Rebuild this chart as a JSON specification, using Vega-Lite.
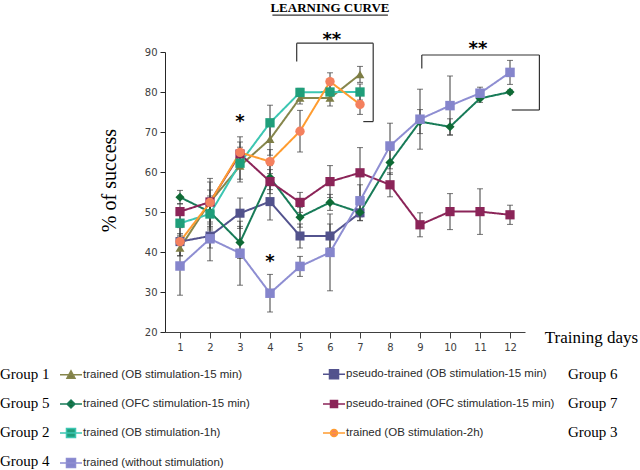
{
  "$schema": "https://vega.github.io/schema/vega-lite/v6.json",
  "width": 360,
  "height": 280,
  "autosize": "none",
  "padding": {"left": 165, "top": 52, "right": 115, "bottom": 138},
  "background": "white",
  "config": {"view": {"stroke": null}, "legend": {"padding": 0}},
  "datasets": {
    "curves": [
      {"day": 1, "value": 41.0, "err": 2.0, "series": "trained (OB stimulation-15 min)", "group": "Group 1"},
      {"day": 2, "value": 52.5, "err": 5.0, "series": "trained (OB stimulation-15 min)", "group": "Group 1"},
      {"day": 3, "value": 61.5, "err": 4.0, "series": "trained (OB stimulation-15 min)", "group": "Group 1"},
      {"day": 4, "value": 68.2, "err": 4.0, "series": "trained (OB stimulation-15 min)", "group": "Group 1"},
      {"day": 5, "value": 78.5, "err": 1.5, "series": "trained (OB stimulation-15 min)", "group": "Group 1"},
      {"day": 6, "value": 78.5, "err": 2.0, "series": "trained (OB stimulation-15 min)", "group": "Group 1"},
      {"day": 7, "value": 84.4, "err": 2.0, "series": "trained (OB stimulation-15 min)", "group": "Group 1"},

      {"day": 1, "value": 42.6, "err": 3.5, "series": "pseudo-trained (OB stimulation-15 min)", "group": "Group 6"},
      {"day": 2, "value": 44.0, "err": 3.0, "series": "pseudo-trained (OB stimulation-15 min)", "group": "Group 6"},
      {"day": 3, "value": 49.7, "err": 3.8, "series": "pseudo-trained (OB stimulation-15 min)", "group": "Group 6"},
      {"day": 4, "value": 52.6, "err": 4.6, "series": "pseudo-trained (OB stimulation-15 min)", "group": "Group 6"},
      {"day": 5, "value": 44.0, "err": 3.0, "series": "pseudo-trained (OB stimulation-15 min)", "group": "Group 6"},
      {"day": 6, "value": 44.0, "err": 3.0, "series": "pseudo-trained (OB stimulation-15 min)", "group": "Group 6"},
      {"day": 7, "value": 49.8, "err": 2.0, "series": "pseudo-trained (OB stimulation-15 min)", "group": "Group 6"},

      {"day": 1, "value": 53.7, "err": 1.7, "series": "trained (OFC stimulation-15 min)", "group": "Group 5"},
      {"day": 2, "value": 50.0, "err": 4.0, "series": "trained (OFC stimulation-15 min)", "group": "Group 5"},
      {"day": 3, "value": 42.4, "err": 4.0, "series": "trained (OFC stimulation-15 min)", "group": "Group 5"},
      {"day": 4, "value": 58.6, "err": 3.0, "series": "trained (OFC stimulation-15 min)", "group": "Group 5"},
      {"day": 5, "value": 48.7, "err": 2.5, "series": "trained (OFC stimulation-15 min)", "group": "Group 5"},
      {"day": 6, "value": 52.4, "err": 2.0, "series": "trained (OFC stimulation-15 min)", "group": "Group 5"},
      {"day": 7, "value": 49.9, "err": 2.0, "series": "trained (OFC stimulation-15 min)", "group": "Group 5"},
      {"day": 8, "value": 62.4, "err": 3.0, "series": "trained (OFC stimulation-15 min)", "group": "Group 5"},
      {"day": 9, "value": 72.6, "err": 3.0, "series": "trained (OFC stimulation-15 min)", "group": "Group 5"},
      {"day": 10, "value": 71.3, "err": 2.0, "series": "trained (OFC stimulation-15 min)", "group": "Group 5"},
      {"day": 11, "value": 78.4, "err": 1.0, "series": "trained (OFC stimulation-15 min)", "group": "Group 5"},
      {"day": 12, "value": 80.0, "err": 0.5, "series": "trained (OFC stimulation-15 min)", "group": "Group 5"},

      {"day": 1, "value": 50.1, "err": 2.0, "series": "pseudo-trained (OFC stimulation-15 min)", "group": "Group 7"},
      {"day": 2, "value": 52.5, "err": 3.0, "series": "pseudo-trained (OFC stimulation-15 min)", "group": "Group 7"},
      {"day": 3, "value": 64.5, "err": 3.0, "series": "pseudo-trained (OFC stimulation-15 min)", "group": "Group 7"},
      {"day": 4, "value": 57.6, "err": 3.0, "series": "pseudo-trained (OFC stimulation-15 min)", "group": "Group 7"},
      {"day": 5, "value": 52.4, "err": 2.5, "series": "pseudo-trained (OFC stimulation-15 min)", "group": "Group 7"},
      {"day": 6, "value": 57.6, "err": 4.0, "series": "pseudo-trained (OFC stimulation-15 min)", "group": "Group 7"},
      {"day": 7, "value": 59.8, "err": 6.3, "series": "pseudo-trained (OFC stimulation-15 min)", "group": "Group 7"},
      {"day": 8, "value": 56.8, "err": 3.0, "series": "pseudo-trained (OFC stimulation-15 min)", "group": "Group 7"},
      {"day": 9, "value": 46.8, "err": 3.0, "series": "pseudo-trained (OFC stimulation-15 min)", "group": "Group 7"},
      {"day": 10, "value": 50.1, "err": 4.5, "series": "pseudo-trained (OFC stimulation-15 min)", "group": "Group 7"},
      {"day": 11, "value": 50.1, "err": 5.7, "series": "pseudo-trained (OFC stimulation-15 min)", "group": "Group 7"},
      {"day": 12, "value": 49.3, "err": 2.4, "series": "pseudo-trained (OFC stimulation-15 min)", "group": "Group 7"},

      {"day": 1, "value": 47.2, "err": 3.0, "series": "trained (OB stimulation-1h)", "group": "Group 2"},
      {"day": 2, "value": 49.5, "err": 4.0, "series": "trained (OB stimulation-1h)", "group": "Group 2"},
      {"day": 3, "value": 62.2, "err": 4.0, "series": "trained (OB stimulation-1h)", "group": "Group 2"},
      {"day": 4, "value": 72.3, "err": 4.4, "series": "trained (OB stimulation-1h)", "group": "Group 2"},
      {"day": 5, "value": 79.9, "err": 1.0, "series": "trained (OB stimulation-1h)", "group": "Group 2"},
      {"day": 6, "value": 80.0, "err": 2.0, "series": "trained (OB stimulation-1h)", "group": "Group 2"},
      {"day": 7, "value": 80.0, "err": 2.0, "series": "trained (OB stimulation-1h)", "group": "Group 2"},

      {"day": 1, "value": 42.6, "err": 2.0, "series": "trained (OB stimulation-2h)", "group": "Group 3"},
      {"day": 2, "value": 52.4, "err": 6.0, "series": "trained (OB stimulation-2h)", "group": "Group 3"},
      {"day": 3, "value": 64.9, "err": 3.9, "series": "trained (OB stimulation-2h)", "group": "Group 3"},
      {"day": 4, "value": 62.6, "err": 3.0, "series": "trained (OB stimulation-2h)", "group": "Group 3"},
      {"day": 5, "value": 70.2, "err": 5.2, "series": "trained (OB stimulation-2h)", "group": "Group 3"},
      {"day": 6, "value": 82.6, "err": 2.2, "series": "trained (OB stimulation-2h)", "group": "Group 3"},
      {"day": 7, "value": 76.9, "err": 2.5, "series": "trained (OB stimulation-2h)", "group": "Group 3"},

      {"day": 1, "value": 36.5, "err": 7.3, "series": "trained (without stimulation)", "group": "Group 4"},
      {"day": 2, "value": 43.3, "err": 5.5, "series": "trained (without stimulation)", "group": "Group 4"},
      {"day": 3, "value": 39.7, "err": 8.0, "series": "trained (without stimulation)", "group": "Group 4"},
      {"day": 4, "value": 29.7, "err": 4.7, "series": "trained (without stimulation)", "group": "Group 4"},
      {"day": 5, "value": 36.4, "err": 2.5, "series": "trained (without stimulation)", "group": "Group 4"},
      {"day": 6, "value": 39.9, "err": 9.6, "series": "trained (without stimulation)", "group": "Group 4"},
      {"day": 7, "value": 52.8, "err": 4.0, "series": "trained (without stimulation)", "group": "Group 4"},
      {"day": 8, "value": 66.5, "err": 5.7, "series": "trained (without stimulation)", "group": "Group 4"},
      {"day": 9, "value": 73.2, "err": 7.5, "series": "trained (without stimulation)", "group": "Group 4"},
      {"day": 10, "value": 76.6, "err": 7.4, "series": "trained (without stimulation)", "group": "Group 4"},
      {"day": 11, "value": 79.7, "err": 1.5, "series": "trained (without stimulation)", "group": "Group 4"},
      {"day": 12, "value": 84.9, "err": 3.0, "series": "trained (without stimulation)", "group": "Group 4"}
    ],
    "stars": [
      {"day": 3, "value": 73.7, "label": "*"},
      {"day": 4, "value": 38.8, "label": "*"},
      {"day": 6.06, "value": 94.2, "label": "**"},
      {"day": 10.93, "value": 92.0, "label": "**"}
    ],
    "brackets": [
      {"day": 4.89, "day2": 4.89, "value": 87.6, "value2": 92.2},
      {"day": 4.89, "day2": 7.44, "value": 92.2, "value2": 92.2},
      {"day": 7.44, "day2": 7.44, "value": 92.2, "value2": 72.6},
      {"day": 7.11, "day2": 7.44, "value": 72.6, "value2": 72.6},
      {"day": 9.06, "day2": 9.06, "value": 85.9, "value2": 89.25},
      {"day": 9.06, "day2": 12.98, "value": 89.25, "value2": 89.25},
      {"day": 12.98, "day2": 12.98, "value": 89.25, "value2": 75.5},
      {"day": 12.06, "day2": 12.98, "value": 75.5, "value2": 75.5},
      {"day": 4.08, "day2": 7.93, "value": 99.2, "value2": 99.2}
    ],
    "heading": [
      {"day": 6.0, "value": 99.9, "label": "LEARNING CURVE"}
    ]
  },
  "encoding": {
    "x": {
      "field": "day", "type": "quantitative",
      "scale": {"domain": [0.5, 12.5], "nice": false, "zero": false},
      "axis": {
        "values": [1, 2, 3, 4, 5, 6, 7, 8, 9, 10, 11, 12],
        "grid": false, "domainColor": "#404040", "tickColor": "#404040",
        "tickSize": 6, "labelPadding": 4, "labelFont": "DejaVu Sans", "labelFontSize": 10, "labelColor": "#404040",
        "title": "Training days", "titleFont": "Liberation Serif", "titleFontSize": 17, "titleFontWeight": "normal",
        "titleColor": "black", "titleX": 426, "titleY": 5, "titleAlign": "center", "titleBaseline": "middle", "titleAngle": 0
      }
    },
    "y": {
      "field": "value", "type": "quantitative",
      "scale": {"domain": [20, 90], "nice": false, "zero": false},
      "axis": {
        "values": [20, 30, 40, 50, 60, 70, 80, 90],
        "grid": false, "domainColor": "#262626", "tickColor": "#262626",
        "tickSize": 5, "labelPadding": 3, "labelFont": "DejaVu Sans", "labelFontSize": 10, "labelColor": "#404040",
        "title": "% of success", "titleFont": "Liberation Serif", "titleFontSize": 20, "titleFontWeight": "normal",
        "titleColor": "black", "titleX": -56, "titleY": 128, "titleAlign": "center", "titleBaseline": "middle", "titleAngle": -90
      }
    }
  },
  "layer": [
    {
      "data": {"name": "curves"},
      "mark": {"type": "errorbar", "ticks": {"size": 6, "thickness": 1, "color": "#3a3a3a"}, "color": "#3a3a3a", "thickness": 1},
      "encoding": {"yError": {"field": "err"}}
    },
    {
      "data": {"name": "curves"},
      "mark": {"type": "line", "strokeWidth": 2},
      "encoding": {
        "color": {
          "field": "series", "type": "nominal",
          "scale": {
            "domain": ["trained (OB stimulation-15 min)", "trained (OFC stimulation-15 min)", "trained (OB stimulation-1h)", "trained (without stimulation)", "pseudo-trained (OB stimulation-15 min)", "pseudo-trained (OFC stimulation-15 min)", "trained (OB stimulation-2h)"],
            "range": ["#86864c", "#187b58", "#3cc6b2", "#8e8ed2", "#53538e", "#8b2458", "#ff9c30"]
          },
          "legend": {
            "orient": "none", "legendX": -106, "legendY": 310, "direction": "vertical", "columns": 2,
            "title": null, "symbolSize": 484, "symbolStrokeWidth": 1.5, "symbolType": "stroke",
            "labelFont": "Liberation Sans", "labelFontSize": 11.5, "labelColor": "#2a2a2a", "labelOffset": 0,
            "columnPadding": 70, "rowPadding": 10, "labelLimit": 400,
            "encode": {
              "symbols": {
                "update": {
                  "size": {"value": 484},
                  "shape": {"signal": "['M-1,0H1M-0.36,0.3L0,-0.36L0.36,0.3Z','M-1,0H1M-0.36,0L0,-0.36L0.36,0L0,0.36Z','M-1,0H1M-0.41,-0.41H0.41V0.41H-0.41Z','M-1,0H1M-0.41,-0.41H0.41V0.41H-0.41Z','M-1,0H1M-0.41,-0.41H0.41V0.41H-0.41Z','M-1,0H1M-0.32,-0.32H0.32V0.32H-0.32Z','M-1,0H1M-0.32,0A0.32,0.32 0 1,0 0.32,0A0.32,0.32 0 1,0 -0.32,0Z'][indexof(['trained (OB stimulation-15 min)','trained (OFC stimulation-15 min)','trained (OB stimulation-1h)','trained (without stimulation)','pseudo-trained (OB stimulation-15 min)','pseudo-trained (OFC stimulation-15 min)','trained (OB stimulation-2h)'], datum.value)]"},
                  "fill": {"signal": "['#7d7d45','#0f6a35','#1f9e7a','#8585cc','#52528c','#8b2458','#f4805e'][indexof(['trained (OB stimulation-15 min)','trained (OFC stimulation-15 min)','trained (OB stimulation-1h)','trained (without stimulation)','pseudo-trained (OB stimulation-15 min)','pseudo-trained (OFC stimulation-15 min)','trained (OB stimulation-2h)'], datum.value)]"},
                  "stroke": {"signal": "['#86864c','#187b58','#3cc6b2','#8e8ed2','#53538e','#8b2458','#ff9c30'][indexof(['trained (OB stimulation-15 min)','trained (OFC stimulation-15 min)','trained (OB stimulation-1h)','trained (without stimulation)','pseudo-trained (OB stimulation-15 min)','pseudo-trained (OFC stimulation-15 min)','trained (OB stimulation-2h)'], datum.value)]"},
                  "strokeWidth": {"value": 1.5},
                  "opacity": {"value": 1}
                }
              }
            }
          }
        },
        "strokeDash": {
          "field": "group", "type": "nominal",
          "scale": {
            "domain": ["Group 1", "Group 5", "Group 2", "Group 4", "Group 6", "Group 7", "Group 3"],
            "range": [[1, 0], [1, 0], [1, 0], [1, 0], [1, 0], [1, 0], [1, 0]]
          },
          "legend": {
            "orient": "none", "legendX": -180, "legendY": 314, "direction": "vertical", "columns": 2,
            "title": null, "symbolSize": 0, "symbolOpacity": 0, "symbolStrokeWidth": 0,
            "labelFont": "Liberation Serif", "labelFontSize": 15, "labelColor": "black", "labelOffset": 0,
            "columnPadding": 503, "rowPadding": 13
          }
        }
      }
    },
    {
      "data": {"name": "curves"},
      "mark": {"type": "point", "filled": true, "opacity": 1},
      "encoding": {
        "fill": {
          "field": "series", "type": "nominal", "legend": null,
          "scale": {
            "domain": ["trained (OB stimulation-15 min)", "pseudo-trained (OB stimulation-15 min)", "trained (OFC stimulation-15 min)", "pseudo-trained (OFC stimulation-15 min)", "trained (OB stimulation-1h)", "trained (OB stimulation-2h)", "trained (without stimulation)"],
            "range": ["#7d7d45", "#52528c", "#0f6a35", "#8b2458", "#1f9e7a", "#f4805e", "#8585cc"]
          }
        },
        "shape": {
          "field": "series", "type": "nominal", "legend": null,
          "scale": {
            "domain": ["trained (OB stimulation-15 min)", "pseudo-trained (OB stimulation-15 min)", "trained (OFC stimulation-15 min)", "pseudo-trained (OFC stimulation-15 min)", "trained (OB stimulation-1h)", "trained (OB stimulation-2h)", "trained (without stimulation)"],
            "range": ["triangle-up", "square", "diamond", "square", "square", "circle", "square"]
          }
        },
        "size": {
          "field": "series", "type": "nominal", "legend": null,
          "scale": {
            "domain": ["trained (OB stimulation-15 min)", "pseudo-trained (OB stimulation-15 min)", "trained (OFC stimulation-15 min)", "pseudo-trained (OFC stimulation-15 min)", "trained (OB stimulation-1h)", "trained (OB stimulation-2h)", "trained (without stimulation)"],
            "range": [80, 90, 60, 56, 80, 48, 100]
          }
        }
      }
    },
    {
      "data": {"name": "brackets"},
      "mark": {"type": "rule", "color": "#333333", "strokeWidth": 1.2},
      "encoding": {"x2": {"field": "day2"}, "y2": {"field": "value2"}}
    },
    {
      "data": {"name": "stars"},
      "mark": {"type": "text", "font": "DejaVu Sans", "fontSize": 18, "fontWeight": "bold", "color": "black", "baseline": "middle", "dy": 5},
      "encoding": {"text": {"field": "label"}}
    },
    {
      "data": {"name": "heading"},
      "mark": {"type": "text", "font": "Liberation Serif", "fontSize": 13, "fontWeight": "bold", "color": "black", "baseline": "alphabetic"},
      "encoding": {"text": {"field": "label"}}
    }
  ]
}
